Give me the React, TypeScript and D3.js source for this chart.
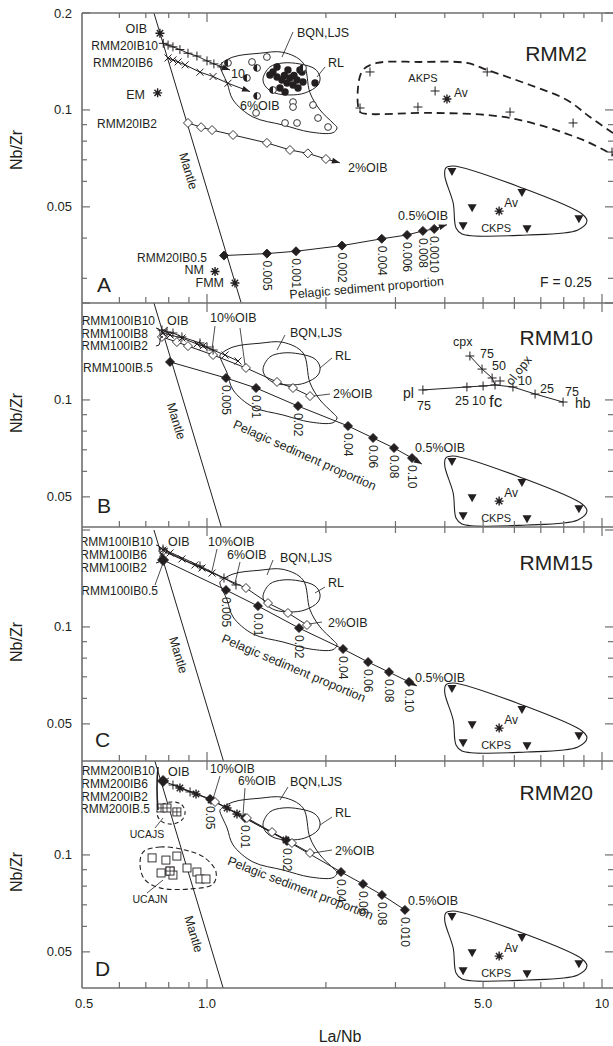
import React from 'react';
import * as d3 from 'd3';

type Pt = [number, number];
type Ann = [string, number, number, string?, number?];
type Lead = [number, number, number, number];

const INK = '#231f20';
const AXIS = '#6e6e6e';
const FONT = "'Liberation Sans', Arial, Helvetica, sans-serif";

// ---------- axes ----------
const X_MINOR_TICKS = [0.6, 0.7, 0.8, 0.9];
const X_MID_TICKS = [2, 3, 4, 5, 6, 7, 8, 9];
const X_MAJOR_TICKS = [1, 10];
const X_TICK_LABELS = ['0.5', '1.0', '5.0', '10'];
const X_TICK_LABEL_VALUES = [0.5, 1, 5, 10];
const Y_MAJOR_TICKS = [0.2, 0.1, 0.05];
const Y_MAJOR_LABELS = ['0.2', '0.1', '0.05'];
const Y_MINOR_TICKS = [0.09, 0.08, 0.07, 0.06, 0.04, 0.03];

const PANEL_IDS = ['A', 'B', 'C', 'D'];
const PANEL_TITLES = ['RMM2', 'RMM10', 'RMM15', 'RMM20'];

// ---------- shared data ----------
const MANTLE: Pt[] = [[0.734, 0.2], [1.22, 0.0252]];
const BQN_OUTLINE: Pt[] = [[1.079, 0.138], [1.164, 0.146], [1.362, 0.150], [1.557, 0.151], [1.75, 0.140], [1.823, 0.113], [1.932, 0.100], [2.085, 0.091], [2.134, 0.088], [2.085, 0.085], [1.823, 0.0854], [1.557, 0.0898], [1.307, 0.0951], [1.164, 0.1074], [1.124, 0.1213], [1.079, 0.136]];
const RL_OUTLINE: Pt[] = [[1.386, 0.1247], [1.443, 0.136], [1.557, 0.1399], [1.719, 0.1389], [1.877, 0.134], [1.932, 0.1265], [1.91, 0.1195], [1.77, 0.1129], [1.622, 0.1113], [1.486, 0.1129], [1.41, 0.1178]];
const CKPS_OUTLINE: Pt[] = [[4.20, 0.067], [6.31, 0.0571], [8.90, 0.0475], [9.16, 0.0452], [8.69, 0.0424], [6.46, 0.0409], [4.42, 0.0412], [4.27, 0.043], [4.20, 0.0514], [4.0, 0.0623], [4.02, 0.066]];
const CKPS_SAMPLES: Pt[] = [[4.17, 0.0642], [6.27, 0.0553], [4.69, 0.0496], [4.45, 0.0436], [6.46, 0.0427], [8.74, 0.0458]];
const CKPS_AV: Pt = [5.49, 0.0485];

// ---------- panel A (RMM2) ----------
const A_OIB: Pt = [0.76, 0.173];
const A_EM: Pt = [0.75, 0.113];
const A_NM: Pt = [1.048, 0.0315];
const A_FMM: Pt = [1.177, 0.029];
const A_IB10: Pt[] = [[0.775, 0.161], [0.797, 0.159], [0.820, 0.157], [0.854, 0.154], [0.895, 0.150], [0.943, 0.147], [1.0, 0.142], [1.041, 0.139], [1.09, 0.136]];
const A_IB10_END: Pt = [1.144, 0.133];
const A_IB6: Pt[] = [[0.797, 0.145], [0.820, 0.143], [0.845, 0.141], [0.880, 0.138], [0.960, 0.131], [1.036, 0.127], [1.130, 0.121]];
const A_IB6_END: Pt = [1.285, 0.114];
const A_IB2: Pt[] = [[0.895, 0.0911], [0.966, 0.0884], [1.03, 0.0866], [1.164, 0.0836], [1.418, 0.079], [1.622, 0.0751], [1.80, 0.0733], [2.0, 0.0704]];
const A_IB2_END: Pt = [2.17, 0.0685];
const A_IB05: Pt[] = [[1.104, 0.0353], [1.418, 0.0358], [1.68, 0.0364], [2.196, 0.0379], [2.77, 0.0398], [3.21, 0.0409], [3.52, 0.0421], [3.76, 0.0427]];
const A_IB05_END: Pt = [4.05, 0.044];
const A_IB05_LABELS = ['', '0.005', '0.001', '0.002', '0.004', '0.006', '0.008', '0.0010'];
const A_OPEN_CIRCLES: Pt[] = [[1.30, 0.1409], [1.418, 0.146], [1.331, 0.0979], [1.651, 0.1058], [1.651, 0.1021], [1.576, 0.0911], [1.69, 0.0911], [1.855, 0.1036], [1.91, 0.0944], [2.025, 0.0885]];
const A_HALF_CIRCLES: Pt[] = [[1.13, 0.1399], [1.262, 0.1257], [1.339, 0.135], [1.469, 0.1153], [1.339, 0.1105], [1.75, 0.135]];
const A_FILLED_CIRCLES: Pt[] = [[1.443, 0.1284], [1.469, 0.1312], [1.504, 0.136], [1.504, 0.1265], [1.548, 0.1239], [1.576, 0.1137], [1.594, 0.1213], [1.622, 0.1257], [1.651, 0.1195], [1.69, 0.1239], [1.70, 0.117], [1.74, 0.1312], [1.75, 0.1221], [1.719, 0.1331], [1.877, 0.1213], [1.53, 0.117], [1.603, 0.1331], [1.57, 0.128], [1.66, 0.128]];
const A_AKPS_OUTLINE: Pt[] = [[10.66, 0.0848], [9.32, 0.0951], [8.15, 0.1074], [6.57, 0.1195], [5.12, 0.1331], [4.55, 0.1399], [3.46, 0.1409], [2.694, 0.1399], [2.483, 0.1331], [2.411, 0.117], [2.44, 0.0985], [2.541, 0.0972], [3.73, 0.0979], [5.85, 0.0944], [8.95, 0.0807], [10.66, 0.0724]];
const A_AKPS_SAMPLES: Pt[] = [[2.586, 0.1312], [5.12, 0.1312], [3.78, 0.1145], [3.42, 0.1021], [2.44, 0.1014], [5.85, 0.0985], [8.45, 0.0911], [10.6, 0.074]];
const A_AKPS_AV: Pt = [4.05, 0.1081];

// ---------- panel B (RMM10) ----------
const B_IB10: Pt[] = [[0.769, 0.1649], [0.792, 0.1626], [0.820, 0.1614], [0.864, 0.1569], [0.960, 0.1503], [1.0, 0.146], [1.036, 0.1429]];
const B_IB8: Pt[] = [[0.774, 0.1614], [0.806, 0.1591], [0.864, 0.1557], [0.943, 0.1492], [0.977, 0.147], [1.111, 0.1379], [1.198, 0.1321]];
const B_IB2: Pt[] = [[0.769, 0.1569], [0.839, 0.1513], [0.895, 0.147], [1.036, 0.1379], [1.255, 0.1257], [1.504, 0.1137], [1.651, 0.1089], [1.823, 0.1028]];
const B_IB05: Pt[] = [[0.806, 0.1312], [1.117, 0.117], [1.331, 0.1089], [1.70, 0.0957], [2.275, 0.083], [2.633, 0.0762], [2.975, 0.0709], [3.304, 0.066]];
const B_IB05_END: Pt = [3.50, 0.0632];
const B_IB05_LABELS = ['', '0.005', '0.01', '0.02', '0.04', '0.06', '0.08', '0.10'];
const FC_CENTER: Pt = [5.36, 0.1113];
const FC_PL: Pt[] = [[3.52, 0.1074], [4.55, 0.1097], [5.0, 0.1105]];
const FC_HB: Pt[] = [[5.95, 0.1097], [6.77, 0.1043], [7.97, 0.0985]];
const FC_CPX: Pt[] = [[4.63, 0.1369], [4.97, 0.1247], [5.27, 0.117]];
const FC_OLOPX: Pt[] = [[5.52, 0.1145]];

// ---------- panel C (RMM15) ----------
const C_IB10: Pt[] = [[0.774, 0.1733], [0.806, 0.1697], [0.864, 0.1626], [0.932, 0.1557], [0.971, 0.1524], [1.03, 0.147]];
const C_IB6: Pt[] = [[0.774, 0.1746], [0.960, 0.1546], [1.104, 0.1419], [1.184, 0.135]];
const C_IB2: Pt[] = [[0.774, 0.1721], [1.255, 0.1321], [1.427, 0.1186], [1.603, 0.1105], [1.791, 0.1014]];
const C_IB05: Pt[] = [[0.774, 0.1614], [1.117, 0.1302], [1.346, 0.1161], [1.71, 0.0992], [2.21, 0.0854], [2.557, 0.0778], [2.889, 0.0724], [3.246, 0.0675]];
const C_IB05_END: Pt = [3.40, 0.0656];
const C_IB05_LABELS = ['', '0.005', '0.01', '0.02', '0.04', '0.06', '0.08', '0.10'];

// ---------- panel D (RMM20) ----------
const D_IB05: Pt[] = [[0.774, 0.1697], [1.018, 0.1492], [1.248, 0.1302], [1.594, 0.1105], [2.184, 0.0885], [2.483, 0.0812], [2.773, 0.0751], [3.17, 0.0675]];
const D_IB05_LABELS = ['', '0.05', '0.01', '0.02', '0.04', '0.06', '0.08', '0.010'];
const D_STARS: Pt[] = [[0.854, 0.1614], [0.938, 0.1546], [1.024, 0.1481], [1.124, 0.1399], [1.191, 0.134], [1.585, 0.1113]];
const D_IB2: Pt[] = [[1.048, 0.146], [1.262, 0.1302], [1.461, 0.1178], [1.641, 0.1089], [1.823, 0.1014]];
const D_PLUS: Pt[] = [[0.82, 0.1649], [0.906, 0.1569]];
const D_UCAJS: Pt[] = [[0.765, 0.1399], [0.792, 0.1399], [0.839, 0.136]];
const D_UCAJS_OUTLINE: Pt[] = [[0.747, 0.135], [0.769, 0.1429], [0.811, 0.146], [0.859, 0.1439], [0.880, 0.136], [0.864, 0.1284], [0.815, 0.1247], [0.765, 0.1274]];
const D_UCAJN: Pt[] = [[0.726, 0.0979], [0.787, 0.0964], [0.839, 0.0992], [0.765, 0.0879], [0.806, 0.0891], [0.82, 0.0866], [0.89, 0.0911], [0.943, 0.0885], [0.96, 0.0842], [0.994, 0.0842]];
const D_UCAJN_GRID: Pt[] = [[0.806, 0.0891]];
const D_UCAJN_OUTLINE: Pt[] = [[0.689, 0.1021], [0.760, 0.1058], [0.880, 0.1036], [0.988, 0.0979], [1.054, 0.0885], [1.036, 0.0812], [0.906, 0.0784], [0.760, 0.079], [0.697, 0.0836], [0.677, 0.0924]];

// ---------- annotations (x px, offset from the 0.2 level) ----------
const A_TEXTS: Ann[] = [
  ['OIB', 147, 20, 'end'], ['RMM20IB10', 158, 37, 'end', 12], ['RMM20IB6', 153, 54, 'end', 12], ['EM', 145, 86, 'end'],
  ['RMM20IB2', 157, 115, 'end', 12], ['RMM20IB0.5', 207, 249, 'end', 12], ['NM', 204, 261, 'end'], ['FMM', 224, 274, 'end'],
  ['10', 231, 65], ['6%OIB', 240, 97], ['BQN,LJS', 297, 24], ['RL', 328, 54], ['2%OIB', 348, 159], ['0.5%OIB', 398, 207],
  ['AKPS', 423, 69, 'middle', 11], ['Av', 454, 84, 'start', 12], ['F = 0.25', 540, 274, 'start', 14],
];
const A_LEADS: Lead[] = [[293, 19, 282, 44], [325, 54, 317, 64]];
const B_TEXTS: Ann[] = [
  ['RMM100IB10', 155, 22, 'end', 12], ['OIB', 167, 22], ['RMM100IB8', 148, 35, 'end', 12], ['RMM100IB2', 148, 47, 'end', 12],
  ['RMM100IB.5', 153, 69, 'end', 12], ['10%OIB', 210, 19], ['BQN,LJS', 290, 34], ['RL', 335, 57], ['2%OIB', 333, 95], ['0.5%OIB', 415, 149],
  ['cpx', 453, 43], ['75', 480, 55], ['50', 492, 67], ['10', 518, 82], ['25', 540, 90], ['75', 565, 93], ['hb', 575, 105, 'start', 14],
  ['pl', 403, 95, 'start', 14], ['75', 417, 107], ['25', 455, 102], ['10', 472, 102], ['fc', 489, 104, 'start', 17],
];
const B_LEADS: Lead[] = [[168, 24, 161, 29], [215, 23, 212, 46], [240, 25, 245, 62], [285, 32, 277, 47], [332, 55, 320, 65], [330, 91, 314, 93]];
const C_TEXTS: Ann[] = [
  ['RMM100IB10', 153, 16, 'end', 12], ['OIB', 168, 16], ['RMM100IB6', 147, 29, 'end', 12], ['RMM100IB2', 147, 42, 'end', 12],
  ['RMM100IB0.5', 158, 65, 'end', 12], ['10%OIB', 208, 16], ['6%OIB', 227, 29], ['BQN,LJS', 280, 32], ['RL', 328, 57], ['2%OIB', 328, 97], ['0.5%OIB', 415, 152],
];
const C_LEADS: Lead[] = [[168, 18, 162, 21], [217, 19, 212, 41], [240, 32, 235, 53], [155, 55, 163, 33], [273, 30, 267, 45], [325, 57, 315, 63], [322, 92, 309, 94]];
const D_TEXTS: Ann[] = [
  ['RMM200IB10', 155, 17, 'end', 12], ['OIB', 168, 18], ['RMM200IB6', 148, 30, 'end', 12], ['RMM200IB2', 148, 43, 'end', 12],
  ['RMM200IB.5', 150, 55, 'end', 12], ['10%OIB', 210, 15, 'start', 12], ['6%OIB', 238, 27, 'start', 12], ['BQN,LJS', 290, 28], ['RL', 335, 59], ['2%OIB', 335, 97], ['0.5%OIB', 408, 147],
  ['UCAJS', 147, 80, 'middle', 10.5], ['UCAJN', 150, 145, 'middle', 10.5],
];
const D_LEADS: Lead[] = [[169, 20, 163, 23], [220, 18, 213, 41], [245, 30, 243, 57], [288, 29, 280, 42], [332, 59, 320, 67], [332, 92, 313, 95], [155, 70, 163, 60], [147, 135, 163, 122]];

// ---------- layout ----------
const PANEL_TOP = [13, 303, 527, 761];
const PANEL_BOTTOM = [303, 527, 761, 988];
const PANEL_Y02 = [13, 303, 530, 758];
const TITLE_POS: [number, number][] = [[587, 35], [593, 29], [593, 27], [593, 29]];
const LETTER_POS: [number, number][] = [[97, 279], [97, 210], [95, 217], [95, 218]];
const PELAGIC_POS: [number, number, number][] = [[367, 279, -5], [303, 156, 24], [292, 142, 23], [299, 134, 21]];
const MANTLE_LABEL_D = [158, 118, 125, 176];
const NBZR_Y = [150, 413, 642, 872];
const X_LEFT = 82;
const X_RIGHT = 613;

const xScale = d3.scaleLog().domain([1, 10]).range([207, 602]);

function Marker({ kind, x, y }: { kind: string; x: number; y: number }) {
  const sw = 1;
  if (kind === 'plus') return <path d={`M${x - 4.5},${y}H${x + 4.5}M${x},${y - 4.5}V${y + 4.5}`} stroke={INK} strokeWidth={sw} />;
  if (kind === 'cross') return <path d={`M${x - 3.5},${y - 3.5}L${x + 3.5},${y + 3.5}M${x - 3.5},${y + 3.5}L${x + 3.5},${y - 3.5}`} stroke={INK} strokeWidth={sw} />;
  if (kind === 'odiamond' || kind === 'fdiamond' || kind === 'bdiamond') {
    const r = kind === 'bdiamond' ? 5.5 : 4.5;
    return <path d={`M${x},${y - r}L${x + r},${y}L${x},${y + r}L${x - r},${y}Z`} fill={kind === 'odiamond' ? '#fff' : INK} stroke={INK} strokeWidth={0.9} />;
  }
  if (kind === 'star') {
    const r = 4.5, q = r * 0.7071;
    return <path d={`M${x - r},${y}H${x + r}M${x},${y - r}V${y + r}M${x - q},${y - q}L${x + q},${y + q}M${x - q},${y + q}L${x + q},${y - q}`} stroke={INK} strokeWidth={1.4} />;
  }
  if (kind === 'ocircle') return <circle cx={x} cy={y} r={3.4} fill="#fff" stroke={INK} strokeWidth={0.9} />;
  if (kind === 'fcircle') return <circle cx={x} cy={y} r={3.7} fill={INK} />;
  if (kind === 'hcircle') {
    const r = 3.4;
    return <g><circle cx={x} cy={y} r={r} fill="#fff" stroke={INK} strokeWidth={0.9} /><path d={`M${x},${y - r}A${r},${r} 0 0 0 ${x},${y + r}Z`} fill={INK} /></g>;
  }
  if (kind === 'tri') return <path d={`M${x - 4.5},${y - 3.8}L${x + 4.5},${y - 3.8}L${x},${y + 4.2}Z`} fill={INK} />;
  if (kind === 'square') return <rect x={x - 4} y={y - 4} width={8} height={8} fill="#fff" stroke={INK} strokeWidth={0.9} />;
  if (kind === 'gsquare') return <g><rect x={x - 4} y={y - 4} width={8} height={8} fill="#fff" stroke={INK} strokeWidth={0.9} /><path d={`M${x - 4},${y}H${x + 4}M${x},${y - 4}V${y + 4}`} stroke={INK} strokeWidth={0.8} /></g>;
  return null;
}

function arrowHead(from: [number, number], to: [number, number]) {
  const ang = Math.atan2(to[1] - from[1], to[0] - from[0]);
  const L = 8, w = 3;
  const bx = to[0] - L * Math.cos(ang), by = to[1] - L * Math.sin(ang);
  const px = -Math.sin(ang) * w, py = Math.cos(ang) * w;
  return `M${to[0]},${to[1]}L${bx + px},${by + py}L${bx - px},${by - py}Z`;
}

type Series = { pts: Pt[]; mark: string; end?: Pt; labels?: string[]; first?: string };

const PANEL_SERIES: Series[][] = [
  [
    { pts: A_IB10, mark: 'plus', end: A_IB10_END },
    { pts: A_IB6, mark: 'cross', end: A_IB6_END },
    { pts: A_IB2, mark: 'odiamond', end: A_IB2_END },
    { pts: A_IB05, mark: 'fdiamond', end: A_IB05_END, labels: A_IB05_LABELS },
  ],
  [
    { pts: B_IB2, mark: 'odiamond' },
    { pts: B_IB8, mark: 'cross' },
    { pts: B_IB10, mark: 'plus' },
    { pts: B_IB05, mark: 'fdiamond', end: B_IB05_END, labels: B_IB05_LABELS, first: 'fdiamond' },
  ],
  [
    { pts: C_IB2, mark: 'odiamond' },
    { pts: C_IB10, mark: 'cross' },
    { pts: C_IB6, mark: 'plus' },
    { pts: C_IB05, mark: 'fdiamond', end: C_IB05_END, labels: C_IB05_LABELS, first: 'bdiamond' },
  ],
  [
    { pts: D_IB05, mark: 'fdiamond', labels: D_IB05_LABELS, first: 'bdiamond' },
    { pts: D_STARS, mark: 'star' },
    { pts: D_IB2, mark: 'odiamond' },
    { pts: D_PLUS, mark: 'plus' },
  ],
];
const PANEL_TEXTS = [A_TEXTS, B_TEXTS, C_TEXTS, D_TEXTS];
const PANEL_LEADS = [A_LEADS, B_LEADS, C_LEADS, D_LEADS];

function Panel({ i }: { i: number }) {
  const top = PANEL_TOP[i], bottom = PANEL_BOTTOM[i], y0 = PANEL_Y02[i];
  const ys = d3.scaleLog().domain([0.2, 0.02]).range([y0, y0 + 322]);
  const P = (p: Pt): [number, number] => [xScale(p[0]), ys(p[1])];
  const line = d3.line();
  const closed = d3.line().curve(d3.curveCatmullRomClosed.alpha(0.5));
  const open = d3.line().curve(d3.curveCatmullRom.alpha(0.5));

  const m0 = P(MANTLE[0]), m1 = P(MANTLE[1]);
  const mAng = Math.atan2(m1[1] - m0[1], m1[0] - m0[0]) * 180 / Math.PI;
  const my = y0 + MANTLE_LABEL_D[i];
  const mt = (my - m0[1]) / (m1[1] - m0[1]);
  const mx = m0[0] + mt * (m1[0] - m0[0]) - 13;

  const txt = (a: Ann, k: number) => (
    <text key={'t' + k} x={a[1]} y={y0 + a[2]} textAnchor={(a[3] as any) || 'start'} fontSize={a[4] || 12.5} fill={INK}>{a[0]}</text>
  );

  return (
    <g>
      <defs>
        <clipPath id={'clip' + i}><rect x={X_LEFT} y={top} width={X_RIGHT - X_LEFT} height={bottom - top} /></clipPath>
      </defs>
      <g clipPath={`url(#clip${i})`}>
        <path d={line([m0, m1]) || ''} stroke={INK} strokeWidth={1} fill="none" />
        <path d={closed(BQN_OUTLINE.map(P)) || ''} stroke={INK} strokeWidth={1} fill="none" />
        <path d={closed(RL_OUTLINE.map(P)) || ''} stroke={INK} strokeWidth={1} fill="none" />
        <path d={closed(CKPS_OUTLINE.map(P)) || ''} stroke={INK} strokeWidth={1.1} fill="none" />
        {CKPS_SAMPLES.map((p, k) => { const q = P(p); return <Marker key={'ck' + k} kind="tri" x={q[0]} y={q[1]} />; })}
        {(() => { const q = P(CKPS_AV); return (
          <g>
            <Marker kind="star" x={q[0]} y={q[1]} />
            <text x={q[0] + 5} y={q[1] - 4} fontSize={12} fill={INK}>Av</text>
            <text x={q[0] - 3} y={q[1] + 21} fontSize={11} fill={INK} textAnchor="middle">CKPS</text>
          </g>); })()}

        {i === 0 && (
          <g>
            <path d={open(A_AKPS_OUTLINE.map(P)) || ''} stroke={INK} strokeWidth={1.8} fill="none" strokeDasharray="8,5" />
            {A_AKPS_SAMPLES.map((p, k) => { const q = P(p); return <Marker key={'ak' + k} kind="plus" x={q[0]} y={q[1]} />; })}
            {(() => { const q = P(A_AKPS_AV); return <Marker kind="star" x={q[0]} y={q[1]} />; })()}
            {A_OPEN_CIRCLES.map((p, k) => { const q = P(p); return <Marker key={'oc' + k} kind="ocircle" x={q[0]} y={q[1]} />; })}
            {A_FILLED_CIRCLES.map((p, k) => { const q = P(p); return <Marker key={'fc' + k} kind="fcircle" x={q[0]} y={q[1]} />; })}
            {A_HALF_CIRCLES.map((p, k) => { const q = P(p); return <Marker key={'hc' + k} kind="hcircle" x={q[0]} y={q[1]} />; })}
            {[A_OIB, A_EM, A_NM, A_FMM].map((p, k) => { const q = P(p); return <Marker key={'em' + k} kind="star" x={q[0]} y={q[1]} />; })}
          </g>
        )}

        {i === 1 && (
          <g>
            <path d={line([...FC_PL, FC_CENTER, ...FC_HB].map(P)) || ''} stroke={INK} strokeWidth={1} fill="none" />
            <path d={line([...FC_CPX, FC_CENTER].map(P)) || ''} stroke={INK} strokeWidth={1} fill="none" />
            {[...FC_PL, ...FC_HB, ...FC_CPX, ...FC_OLOPX, FC_CENTER].map((p, k) => { const q = P(p); return <Marker key={'fcx' + k} kind="plus" x={q[0]} y={q[1]} />; })}
            <text transform={`translate(522,${y0 + 70}) rotate(-52)`} fontSize={12.5} fill={INK} textAnchor="middle">ol,opx</text>
          </g>
        )}

        {i === 3 && (
          <g>
            <path d={closed(D_UCAJS_OUTLINE.map(P)) || ''} stroke={INK} strokeWidth={1.1} fill="none" strokeDasharray="4,3" />
            <path d={closed(D_UCAJN_OUTLINE.map(P)) || ''} stroke={INK} strokeWidth={1.1} fill="none" strokeDasharray="5,3" />
            {D_UCAJS.map((p, k) => { const q = P(p); return <Marker key={'us' + k} kind="gsquare" x={q[0]} y={q[1]} />; })}
            {D_UCAJN.map((p, k) => { const q = P(p); return <Marker key={'un' + k} kind="square" x={q[0]} y={q[1]} />; })}
            {D_UCAJN_GRID.map((p, k) => { const q = P(p); return <Marker key={'ug' + k} kind="gsquare" x={q[0]} y={q[1]} />; })}
          </g>
        )}

        {PANEL_SERIES[i].map((s, si) => {
          const pts = s.pts.map(P);
          const all = s.end ? [...pts, P(s.end)] : pts;
          return (
            <g key={'s' + si}>
              <path d={line(all) || ''} stroke={INK} strokeWidth={1} fill="none" />
              {s.end && <path d={arrowHead(all[all.length - 2], all[all.length - 1])} fill={INK} />}
              {pts.map((q, k) => <Marker key={k} kind={k === 0 && s.first ? s.first : s.mark} x={q[0]} y={q[1]} />)}
              {s.labels && pts.map((q, k) => s.labels![k] ? (
                <text key={'l' + k} transform={`translate(${q[0] - 4},${q[1] + 7}) rotate(90)`} fontSize={12} fill={INK}>{s.labels![k]}</text>
              ) : null)}
            </g>
          );
        })}

        {PANEL_LEADS[i].map((l, k) => <line key={'ld' + k} x1={l[0]} y1={y0 + l[1]} x2={l[2]} y2={y0 + l[3]} stroke={INK} strokeWidth={0.8} />)}
        {(i === 1 || i === 2) && (() => {
          const ya = y0 + (i === 1 ? 25 : 15), yb = y0 + (i === 1 ? 43 : 33), ym = (ya + yb) / 2;
          return <path d={`M156,${ya}Q160,${ya} 160,${ya + 4}L160,${ym - 2}Q160,${ym} 163,${ym}Q160,${ym} 160,${ym + 2}L160,${yb - 4}Q160,${yb} 156,${yb}`} stroke={INK} strokeWidth={1} fill="none" />;
        })()}
        {i === 3 && <path d={`M158,${y0 + 9}Q156,${y0 + 30} 158,${y0 + 52}`} stroke={INK} strokeWidth={1.6} fill="none" />}

        {PANEL_TEXTS[i].map(txt)}
        <text transform={`translate(${mx},${my}) rotate(${mAng})`} fontSize={12.5} fill={INK} textAnchor="middle" dy="0.35em">Mantle</text>
        <text transform={`translate(${PELAGIC_POS[i][0]},${y0 + PELAGIC_POS[i][1]}) rotate(${PELAGIC_POS[i][2]})`} fontSize={12.5} fill={INK} textAnchor="middle">Pelagic sediment proportion</text>
        <text x={TITLE_POS[i][0]} y={y0 + TITLE_POS[i][1] + 13} fontSize={21} fill={INK} textAnchor="end">{PANEL_TITLES[i]}</text>
        <text x={LETTER_POS[i][0]} y={y0 + LETTER_POS[i][1]} fontSize={21} fill={INK}>{PANEL_IDS[i]}</text>
      </g>

      {Y_MAJOR_TICKS.map((v, k) => {
        const y = ys(v);
        if (y < top - 1 || y > bottom - 3) return null;
        return (
          <g key={'ym' + k}>
            <line x1={X_LEFT} x2={X_LEFT + 8} y1={y} y2={y} stroke={AXIS} strokeWidth={1.2} />
            <line x1={X_RIGHT - 8} x2={X_RIGHT} y1={y} y2={y} stroke={AXIS} strokeWidth={1.2} />
            {(i === 0 || v < 0.2) && <text x={72} y={y + 4.5} fontSize={13} fill={INK} textAnchor="end">{Y_MAJOR_LABELS[k]}</text>}
          </g>
        );
      })}
      {Y_MINOR_TICKS.map((v, k) => {
        const y = ys(v);
        if (y < top + 6 || y > bottom - 6) return null;
        return (
          <g key={'yn' + k}>
            <line x1={X_LEFT} x2={X_LEFT + 5} y1={y} y2={y} stroke={AXIS} strokeWidth={1.2} />
            <line x1={X_RIGHT - 5} x2={X_RIGHT} y1={y} y2={y} stroke={AXIS} strokeWidth={1.2} />
          </g>
        );
      })}
      <text transform={`translate(22,${NBZR_Y[i]}) rotate(-90)`} fontSize={16} fill={INK} textAnchor="middle">Nb/Zr</text>
    </g>
  );
}

function HLine({ y, up, down }: { y: number; up: boolean; down: boolean }) {
  return (
    <g>
      <line x1={X_LEFT} x2={X_RIGHT} y1={y} y2={y} stroke={AXIS} strokeWidth={1.6} />
      {X_MINOR_TICKS.map((v, k) => {
        const x = xScale(v);
        return <line key={'a' + k} x1={x} x2={x} y1={up ? y - 6 : y} y2={up ? y : y + 5} stroke={AXIS} strokeWidth={1.2} />;
      })}
      {X_MID_TICKS.map((v, k) => {
        const x = xScale(v);
        return <line key={'b' + k} x1={x} x2={x} y1={up ? y - 6 : y} y2={down ? y + (up ? 6 : 5) : y} stroke={AXIS} strokeWidth={1.2} />;
      })}
      {X_MAJOR_TICKS.map((v, k) => {
        const x = xScale(v);
        return <line key={'c' + k} x1={x} x2={x} y1={up ? y - 9 : y} y2={down ? y + 9 : y} stroke={AXIS} strokeWidth={1.2} />;
      })}
    </g>
  );
}

export default function App() {
  const lines = [13, 303, 527, 761, 988];
  return (
    <svg width={613} height={1046} viewBox="0 0 613 1046" style={{ position: 'absolute', left: 0, top: 0, background: '#fff' }} fontFamily={FONT}>
      <rect x={0} y={0} width={613} height={1046} fill="#fff" />
      {PANEL_IDS.map((_, i) => <Panel key={i} i={i} />)}
      <line x1={X_LEFT} x2={X_LEFT} y1={13} y2={988} stroke={AXIS} strokeWidth={1.6} />
      {lines.map((y, k) => <HLine key={k} y={y} up={k > 0} down={k < lines.length - 1} />)}
      {X_TICK_LABEL_VALUES.map((v, k) => (
        <text key={k} x={Math.max(xScale(v), X_LEFT) - (v < 0.6 ? 4 : 0)} y={1008} fontSize={13} fill={INK} textAnchor="middle">{X_TICK_LABELS[k]}</text>
      ))}
      <text x={340} y={1042} fontSize={16} fill={INK} textAnchor="middle">La/Nb</text>
    </svg>
  );
}
